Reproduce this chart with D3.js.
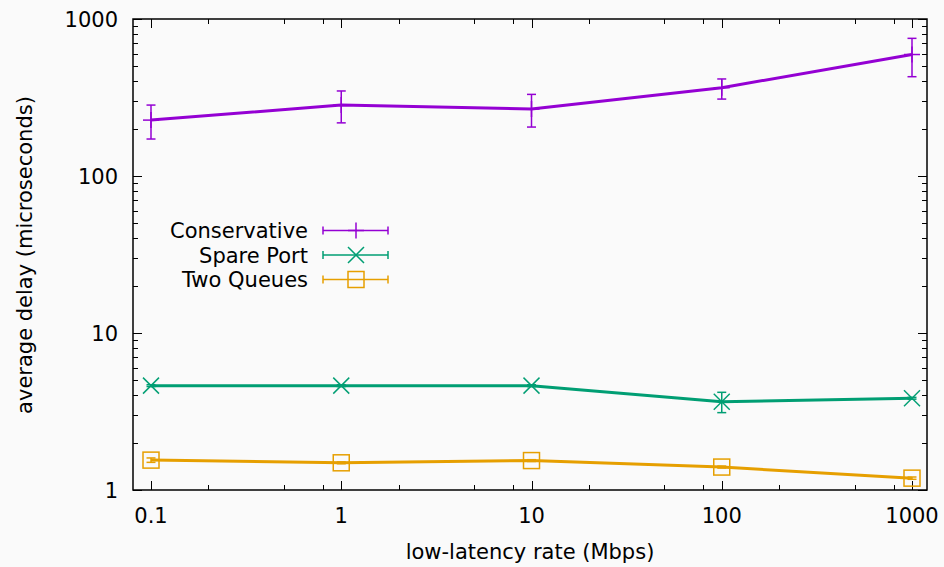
<!DOCTYPE html>
<html><head><meta charset="utf-8">
<script src="https://cdn.jsdelivr.net/npm/d3@7"></script>
<style>html,body{margin:0;padding:0;background:#fafafa;}svg{display:block;}</style>
</head><body>
<svg id="c" width="944" height="567"></svg>
<script>
// ---- data ----
const rates = [0.1, 1, 10, 100, 1000];
const seriesNames = ["Conservative", "Spare Port", "Two Queues"];
const seriesColors = ["#9400d3", "#009e73", "#e69f00"];
const seriesMarkers = ["plus", "cross", "square"];
const conservative   = [227, 283, 267, 365, 594];
const conservativeLo = [172, 218, 205, 309, 429];
const conservativeHi = [283, 348, 331, 415, 753];
const sparePort   = [4.62, 4.62, 4.62, 3.65, 3.84];
const sparePortLo = [4.56, 4.56, 4.56, 3.11, 3.79];
const sparePortHi = [4.68, 4.68, 4.68, 4.19, 3.89];
const twoQueues   = [1.55, 1.49, 1.54, 1.40, 1.19];
const twoQueuesLo = [1.50, 1.47, 1.52, 1.38, 1.17];
const twoQueuesHi = [1.60, 1.51, 1.56, 1.42, 1.21];
const xTickValues = [0.1, 1, 10, 100, 1000];
const xTickLabels = ["0.1", "1", "10", "100", "1000"];
const yTickValues = [1, 10, 100, 1000];
const yTickLabels = ["1", "10", "100", "1000"];
const xMinorMultipliers = [2, 5, 8];
const yMinorMultipliers = [2, 3, 4, 5, 6, 7, 8, 9];
const xTitle = "low-latency rate (Mbps)";
const yTitle = "average delay (microseconds)";

const values = [conservative, sparePort, twoQueues];
const lows = [conservativeLo, sparePortLo, twoQueuesLo];
const highs = [conservativeHi, sparePortHi, twoQueuesHi];

// ---- layout ----
const L = 133, R = 927, T = 19, B = 490;
const x = d3.scaleLog().domain([0.1, 1000]).range([151, 912]);
const y = d3.scaleLog().domain([1, 1000]).range([B, T]);
const FONT = "'DejaVu Sans', sans-serif";
const FS = 21;

const svg = d3.select("#c");
svg.append("rect").attr("width", 944).attr("height", 567).attr("fill", "#fafafa");

// ticks
const tickG = svg.append("g").attr("stroke", "#000").attr("stroke-width", 1);
const xMinor = [], yMinor = [];
[0.1, 1, 10, 100].forEach(d => xMinorMultipliers.forEach(m => xMinor.push(d * m)));
[1, 10, 100].forEach(d => yMinorMultipliers.forEach(m => yMinor.push(d * m)));
function xt(vals, len) {
  vals.forEach(v => {
    const px = Math.round(x(v)) + 0.5;
    tickG.append("line").attr("x1", px).attr("x2", px).attr("y1", B).attr("y2", B - len);
    tickG.append("line").attr("x1", px).attr("x2", px).attr("y1", T).attr("y2", T + len);
  });
}
function yt(vals, len) {
  vals.forEach(v => {
    const py = Math.round(y(v)) + 0.5;
    tickG.append("line").attr("x1", L).attr("x2", L + len).attr("y1", py).attr("y2", py);
    tickG.append("line").attr("x1", R).attr("x2", R - len).attr("y1", py).attr("y2", py);
  });
}
xt(xTickValues, 9); xt(xMinor, 5);
yt(yTickValues, 9); yt(yMinor, 5);

// tick labels
xTickValues.forEach((v, i) => {
  svg.append("text").attr("x", x(v)).attr("y", 523).attr("text-anchor", "middle")
    .attr("font-family", FONT).attr("font-size", FS).attr("fill", "#000").text(xTickLabels[i]);
});
yTickValues.forEach((v, i) => {
  svg.append("text").attr("x", 118).attr("y", y(v) + 7.5).attr("text-anchor", "end")
    .attr("font-family", FONT).attr("font-size", FS).attr("fill", "#000").text(yTickLabels[i]);
});

// titles
svg.append("text").attr("x", 530).attr("y", 559).attr("text-anchor", "middle")
  .attr("font-family", FONT).attr("font-size", FS).attr("fill", "#000").text(xTitle);
svg.append("text").attr("transform", "translate(32,255) rotate(-90)").attr("text-anchor", "middle")
  .attr("font-family", FONT).attr("font-size", FS).attr("fill", "#000").text(yTitle);

// marker drawer
function marker(g, type, cx, cy, color) {
  const s = 8;
  if (type === "plus") {
    g.append("line").attr("x1", cx - s).attr("x2", cx + s).attr("y1", cy).attr("y2", cy).attr("stroke", color).attr("stroke-width", 1.5);
    g.append("line").attr("x1", cx).attr("x2", cx).attr("y1", cy - s).attr("y2", cy + s).attr("stroke", color).attr("stroke-width", 1.5);
  } else if (type === "cross") {
    g.append("line").attr("x1", cx - s).attr("x2", cx + s).attr("y1", cy - s).attr("y2", cy + s).attr("stroke", color).attr("stroke-width", 1.5);
    g.append("line").attr("x1", cx - s).attr("x2", cx + s).attr("y1", cy + s).attr("y2", cy - s).attr("stroke", color).attr("stroke-width", 1.5);
  } else {
    g.append("rect").attr("x", cx - s).attr("y", cy - s).attr("width", 2 * s).attr("height", 2 * s)
      .attr("fill", "none").attr("stroke", color).attr("stroke-width", 1.5);
  }
}

// series
const line = d3.line().x(d => x(d[0])).y(d => y(d[1]));
values.forEach((vals, si) => {
  const color = seriesColors[si];
  const g = svg.append("g");
  const pts = rates.map((r, i) => [r, vals[i]]);
  g.append("path").attr("d", line(pts)).attr("fill", "none").attr("stroke", color)
    .attr("stroke-width", 3).attr("stroke-linejoin", "round");
  rates.forEach((r, i) => {
    const cx = x(r), y1 = y(lows[si][i]), y2 = y(highs[si][i]);
    g.append("line").attr("x1", cx).attr("x2", cx).attr("y1", y1).attr("y2", y2).attr("stroke", color).attr("stroke-width", 1.5);
    g.append("line").attr("x1", cx - 4.5).attr("x2", cx + 4.5).attr("y1", y1).attr("y2", y1).attr("stroke", color).attr("stroke-width", 1.5);
    g.append("line").attr("x1", cx - 4.5).attr("x2", cx + 4.5).attr("y1", y2).attr("y2", y2).attr("stroke", color).attr("stroke-width", 1.5);
    marker(g, seriesMarkers[si], cx, y(vals[i]), color);
  });
});

// legend
seriesNames.forEach((name, i) => {
  const ly = 230.5 + i * 24.5;
  const color = seriesColors[i];
  svg.append("text").attr("x", 308).attr("y", ly + 7.5).attr("text-anchor", "end")
    .attr("font-family", FONT).attr("font-size", FS).attr("fill", "#000").text(name);
  const g = svg.append("g");
  g.append("line").attr("x1", 323).attr("x2", 388).attr("y1", ly).attr("y2", ly).attr("stroke", color).attr("stroke-width", 1.5);
  g.append("line").attr("x1", 323).attr("x2", 323).attr("y1", ly - 4).attr("y2", ly + 4).attr("stroke", color).attr("stroke-width", 1.5);
  g.append("line").attr("x1", 388).attr("x2", 388).attr("y1", ly - 4).attr("y2", ly + 4).attr("stroke", color).attr("stroke-width", 1.5);
  marker(g, seriesMarkers[i], 356, ly, color);
});

// frame
svg.append("rect").attr("x", L).attr("y", T).attr("width", R - L).attr("height", B - T)
  .attr("fill", "none").attr("stroke", "#000").attr("stroke-width", 1.5);
</script>
</body></html>
